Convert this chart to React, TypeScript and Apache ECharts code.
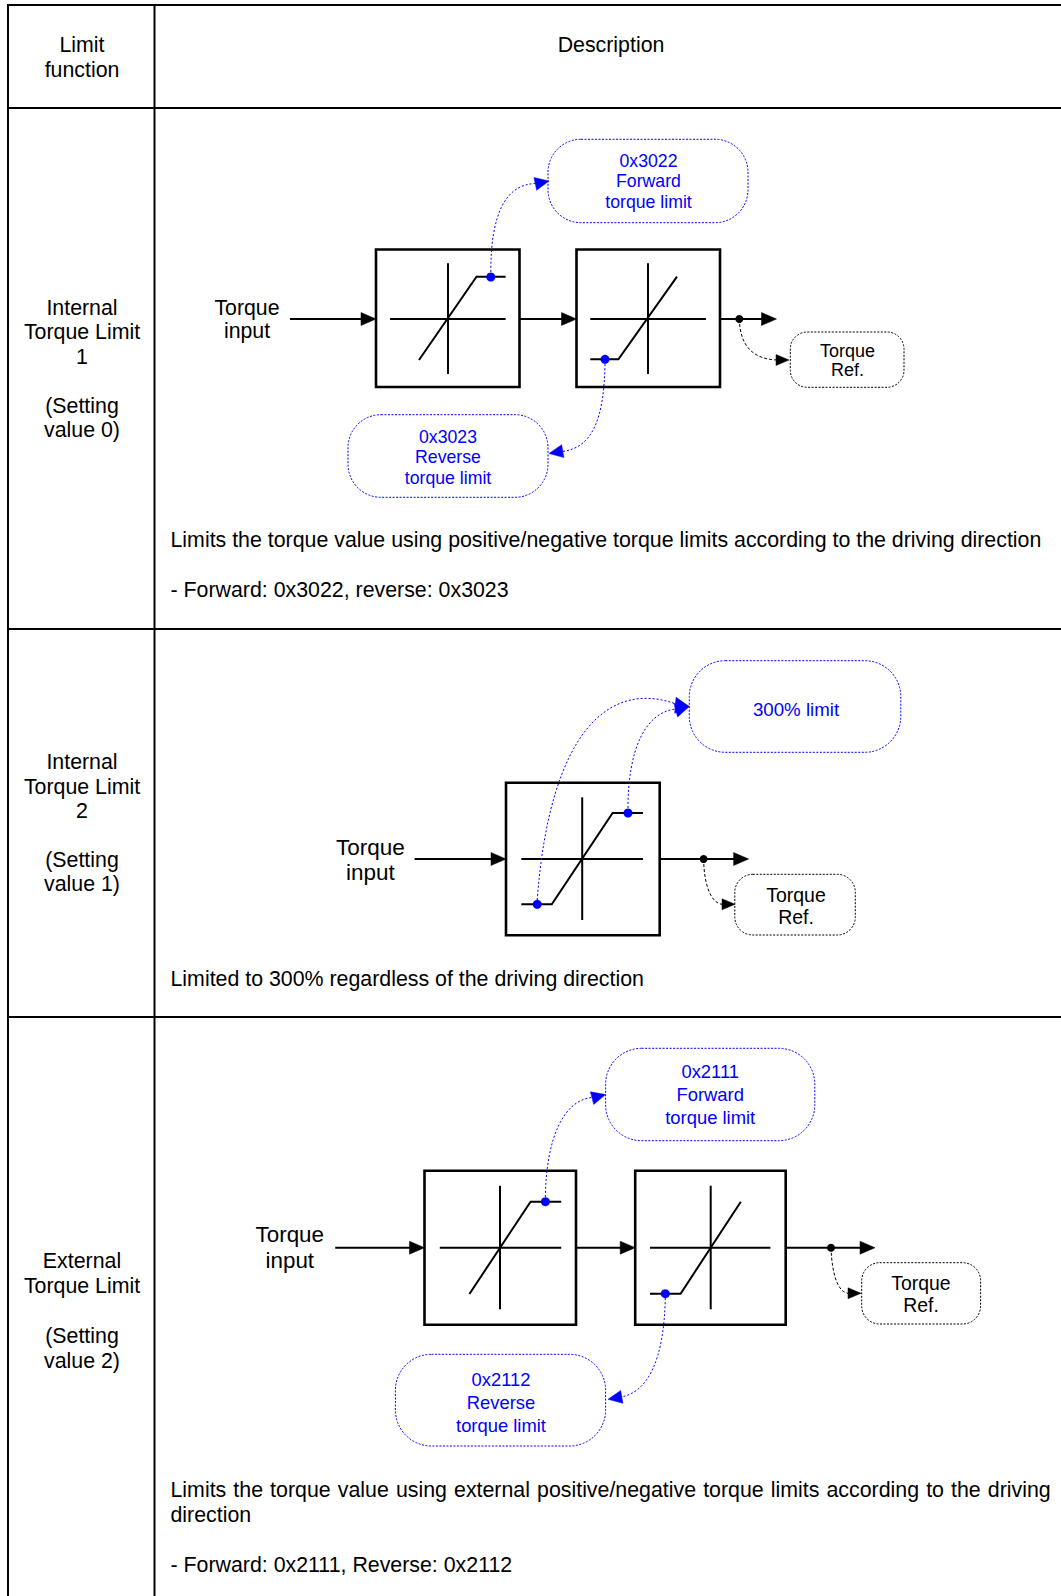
import React, { useEffect, useRef } from "react";
import * as echarts from "echarts";

// ---------- texts (data) ----------
const headerLabels = ["Limit\nfunction", "Description"];
const rowLabels = [
  ["Internal", "Torque Limit", "1", "", "(Setting", "value 0)"],
  ["Internal", "Torque Limit", "2", "", "(Setting", "value 1)"],
  ["External", "Torque Limit", "", "(Setting", "value 2)"],
];
const descriptions = [
  [
    "Limits the torque value using positive/negative torque limits according to the driving direction",
    "",
    "- Forward: 0x3022, reverse: 0x3023",
  ],
  ["Limited to 300% regardless of the driving direction"],
  [
    "Limits the torque value using external positive/negative torque limits according to the driving",
    "direction",
    "",
    "- Forward: 0x2111, Reverse: 0x2112",
  ],
];
const inputLabel = ["Torque", "input"];
const refLabel = ["Torque", "Ref."];
const forward1 = ["0x3022", "Forward", "torque limit"];
const reverse1 = ["0x3023", "Reverse", "torque limit"];
const limit2 = ["300% limit"];
const forward3 = ["0x2111", "Forward", "torque limit"];
const reverse3 = ["0x2112", "Reverse", "torque limit"];

const FONT = '"Liberation Sans", Arial, Helvetica, sans-serif';
const BLUE = "#0000ff";
const BLACK = "#000000";
const BODY = 21.35;

type El = any;

function line(x1: number, y1: number, x2: number, y2: number, w = 2, color = BLACK, dash?: number[]): El {
  return {
    type: "line",
    shape: { x1, y1, x2, y2 },
    style: { stroke: color, lineWidth: w, lineDash: dash },
    silent: true,
  };
}
function head(tx: number, ty: number, angDeg: number, len: number, hw: number, color = BLACK): El {
  const a = (angDeg * Math.PI) / 180;
  const bx = tx - len * Math.cos(a);
  const by = ty - len * Math.sin(a);
  const nx = -Math.sin(a);
  const ny = Math.cos(a);
  return {
    type: "polygon",
    shape: { points: [[tx, ty], [bx + hw * nx, by + hw * ny], [bx - hw * nx, by - hw * ny]] },
    style: { fill: color, stroke: color, lineWidth: 0.5 },
    silent: true,
  };
}
function box(x: number, y: number, w: number, h: number): El {
  return {
    type: "rect",
    shape: { x, y, width: w, height: h },
    style: { fill: "#fff", stroke: BLACK, lineWidth: 2.6 },
    silent: true,
  };
}
function poly(points: number[][], w = 2, color = BLACK): El {
  return { type: "polyline", shape: { points }, style: { stroke: color, lineWidth: w, fill: null }, silent: true };
}
function dot(cx: number, cy: number, r: number, color: string): El {
  return { type: "circle", shape: { cx, cy, r }, style: { fill: color }, silent: true };
}
function bez(x1: number, y1: number, c1x: number, c1y: number, c2x: number, c2y: number, x2: number, y2: number, color: string, dash: number[]): El {
  return {
    type: "bezierCurve",
    shape: { x1, y1, cpx1: c1x, cpy1: c1y, cpx2: c2x, cpy2: c2y, x2, y2 },
    style: { stroke: color, lineWidth: 1, lineDash: dash, fill: null },
    silent: true,
  };
}
function bubble(x: number, y: number, w: number, h: number, r: number, color: string): El {
  return {
    type: "rect",
    shape: { x, y, width: w, height: h, r },
    style: { fill: "#fff", stroke: color, lineWidth: 1, lineDash: [2, 1.5] },
    silent: true,
  };
}
function text(x: number, yCenterFirst: number, lines: string[], size: number, lh: number, color = BLACK, align = "center"): El {
  return {
    type: "text",
    x,
    y: yCenterFirst - lh / 2,
    style: {
      text: lines.join("\n"),
      fill: color,
      font: `${size}px ${FONT}`,
      align,
      verticalAlign: "top",
      lineHeight: lh,
    },
    silent: true,
  };
}
// a justified single line: words spread to fill [x0, x1]
function justified(x0: number, x1: number, yCenter: number, str: string, size: number, lh: number): El[] {
  const words = str.split(" ");
  const canvas = document.createElement("canvas");
  const ctx = canvas.getContext("2d");
  const font = `${size}px ${FONT}`;
  let widths: number[] = words.map((w) => w.length * size * 0.5);
  if (ctx) {
    ctx.font = font;
    widths = words.map((w) => ctx.measureText(w).width);
  }
  const total = widths.reduce((a, b) => a + b, 0);
  const gap = (x1 - x0 - total) / (words.length - 1);
  const out: El[] = [];
  let x = x0;
  words.forEach((w, i) => {
    out.push(text(x, yCenter, [w], size, lh, BLACK, "left"));
    x += widths[i] + gap;
  });
  return out;
}

function buildElements(): El[] {
  const els: El[] = [];
  // ---------- table ----------
  els.push(line(7, 5, 1061, 5));
  els.push(line(7, 108, 1061, 108));
  els.push(line(7, 629, 1061, 629));
  els.push(line(7, 1017, 1061, 1017));
  els.push(line(8, 4, 8, 1596));
  els.push(line(154.5, 4, 154.5, 1596));

  els.push(text(82, 45.5, headerLabels[0].split("\n"), BODY, 24.4));
  els.push(text(611, 45.5, [headerLabels[1]], BODY, 24.4));

  els.push(text(82, 308, rowLabels[0], BODY, 24.4));
  els.push(text(82, 762.5, rowLabels[1], BODY, 24.4));
  els.push(text(82, 1261, rowLabels[2], BODY, 25));

  els.push(text(170.5, 540, descriptions[0], BODY, 25, BLACK, "left"));
  els.push(text(170.5, 978.5, descriptions[1], BODY, 25, BLACK, "left"));
  els.push(...justified(170.5, 1050.7, 1490, descriptions[2][0], BODY, 25));
  els.push(text(170.5, 1515, descriptions[2].slice(1), BODY, 25, BLACK, "left"));

  // ---------- section 1 ----------
  {
    const cy = 319;
    els.push(bubble(548, 139.3, 200, 83.4, 33, BLUE));
    els.push(text(648.5, 160.7, forward1, 17.7, 20.5, BLUE));
    els.push(bubble(348, 414.7, 200, 82.6, 33, BLUE));
    els.push(text(448, 436.5, reverse1, 17.7, 20.5, BLUE));
    els.push(bubble(790.3, 332, 113.7, 55.3, 17, BLACK));
    els.push(text(847.4, 350.7, refLabel, 18, 19.5));
    els.push(text(247, 307.5, inputLabel, 21.3, 23.5));

    els.push(box(376, 249.5, 143.5, 137.5));
    els.push(box(576.5, 249.5, 143.5, 137.5));
    els.push(line(290, cy, 362, cy));
    els.push(head(376, cy, 0, 15, 6.5));
    els.push(line(519, cy, 563, cy));
    els.push(head(576.5, cy, 0, 15, 6.5));
    els.push(line(720, cy, 763, cy));
    els.push(head(776.5, cy, 0, 15, 6.5));
    els.push(dot(739.3, cy, 4, BLACK));
    els.push(bez(739.3, cy, 740, 345, 752, 359, 777, 360, BLACK, [3, 2]));
    els.push(head(789, 360, 0, 13, 5.5));
    // box1 internals
    els.push(line(390, cy, 505.6, cy));
    els.push(line(448, 263.3, 448, 374));
    els.push(poly([[419, 360], [476.5, 276.7], [505.6, 276.7]]));
    // box2 internals
    els.push(line(590.3, cy, 706, cy));
    els.push(line(648, 263.3, 648, 374));
    els.push(poly([[590.3, 359.3], [618.4, 359.3], [677, 276.7]]));
    // blue links
    els.push(bez(490.8, 272, 490.8, 215, 505, 184, 536, 183.5, BLUE, [2, 2]));
    els.push(head(549, 181, -12, 14, 6.5, BLUE));
    els.push(bez(605, 364, 604, 420, 592, 448, 562, 451.5, BLUE, [2, 2]));
    els.push(head(549, 453.5, 170, 14, 6.5, BLUE));
    els.push(dot(490.8, 277, 4.5, BLUE));
    els.push(dot(605, 359.3, 4.5, BLUE));
  }

  // ---------- section 2 ----------
  {
    const cy = 859;
    els.push(bubble(689.3, 660.7, 211.5, 91.6, 36, BLUE));
    els.push(text(796, 709, limit2, 18.7, 22, BLUE));
    els.push(bubble(734.8, 874.3, 120.5, 60.7, 18, BLACK));
    els.push(text(796, 895, refLabel, 19.5, 21.7));
    els.push(text(370.4, 847, inputLabel, 22.5, 25.5));

    els.push(box(506, 782.7, 153.7, 152.6));
    els.push(line(414.6, cy, 492, cy));
    els.push(head(506, cy, 0, 15, 6.5));
    els.push(line(659.7, cy, 735, cy));
    els.push(head(748.6, cy, 0, 15, 6.5));
    els.push(dot(703.6, cy, 4, BLACK));
    els.push(bez(703.6, cy, 704, 885, 711, 903, 722, 904.3, BLACK, [3, 2]));
    els.push(head(735, 904.3, 0, 13, 5.5));
    els.push(line(521.3, cy, 643, cy));
    els.push(line(582.2, 797.3, 582.2, 920));
    els.push(poly([[521.3, 904.3], [551.8, 904.3], [612.6, 813], [643, 813]]));
    els.push(bez(537.2, 900, 550, 730, 610, 680, 676, 704, BLUE, [2, 2]));
    els.push(bez(628, 808, 628, 750, 645, 712, 676, 709, BLUE, [2, 2]));
    els.push(head(689.3, 706.5, 5, 14, 8, BLUE));
    els.push(head(689.3, 706.5, -15, 14, 7, BLUE));
    els.push(dot(537.2, 904.3, 4.5, BLUE));
    els.push(dot(628, 813, 4.5, BLUE));
  }

  // ---------- section 3 ----------
  {
    const cy = 1247.7;
    els.push(bubble(605.6, 1048.3, 209.2, 92.4, 36, BLUE));
    els.push(text(710.2, 1072, forward3, 18.4, 22.8, BLUE));
    els.push(bubble(395.4, 1354.3, 210.2, 91.7, 36, BLUE));
    els.push(text(501, 1379, reverse3, 18.4, 23, BLUE));
    els.push(bubble(861.7, 1262.7, 118.9, 61.3, 18, BLACK));
    els.push(text(921, 1283.3, refLabel, 19.4, 22));
    els.push(text(289.8, 1235, inputLabel, 22.4, 25.7));

    els.push(box(424.5, 1170.7, 151.5, 154));
    els.push(box(635.2, 1170.7, 150.5, 154));
    els.push(line(335.2, cy, 411, cy));
    els.push(head(424.5, cy, 0, 15, 6.5));
    els.push(line(576, cy, 621, cy));
    els.push(head(635.2, cy, 0, 15, 6.5));
    els.push(line(785.7, cy, 861, cy));
    els.push(head(875, cy, 0, 15, 6.5));
    els.push(dot(831, cy, 4, BLACK));
    els.push(bez(831, cy, 832, 1275, 838, 1292, 848, 1293.3, BLACK, [3, 2]));
    els.push(head(861, 1293.3, 0, 13, 5.5));
    els.push(line(439.8, cy, 561.2, cy));
    els.push(line(500, 1185.7, 500, 1309.3));
    els.push(poly([[469.4, 1294], [530.6, 1201.7], [561.2, 1201.7]]));
    els.push(line(650, cy, 770.4, cy));
    els.push(line(710.7, 1185.7, 710.7, 1309.3));
    els.push(poly([[650, 1293.7], [680.6, 1293.7], [740.8, 1201.7]]));
    els.push(bez(545.4, 1197, 546, 1140, 563, 1100, 592, 1097.5, BLUE, [2, 2]));
    els.push(head(605.6, 1094.5, -15, 14, 6.5, BLUE));
    els.push(bez(665.3, 1298, 664, 1360, 648, 1392, 621, 1397, BLUE, [2, 2]));
    els.push(head(608, 1399.3, 170, 14, 6.5, BLUE));
    els.push(dot(545.4, 1201.7, 4.5, BLUE));
    els.push(dot(665.3, 1293.7, 4.5, BLUE));
  }
  return els;
}

export default function App() {
  const ref = useRef<HTMLDivElement>(null);
  useEffect(() => {
    document.body.style.margin = "0";
    document.body.style.background = "#fff";
    if (!ref.current) return;
    const chart = echarts.init(ref.current, undefined, { renderer: "svg" });
    chart.setOption({
      animation: false,
      backgroundColor: "#ffffff",
      graphic: { elements: buildElements() },
    });
    return () => chart.dispose();
  }, []);
  return <div ref={ref} style={{ width: 1061, height: 1596 }} />;
}
